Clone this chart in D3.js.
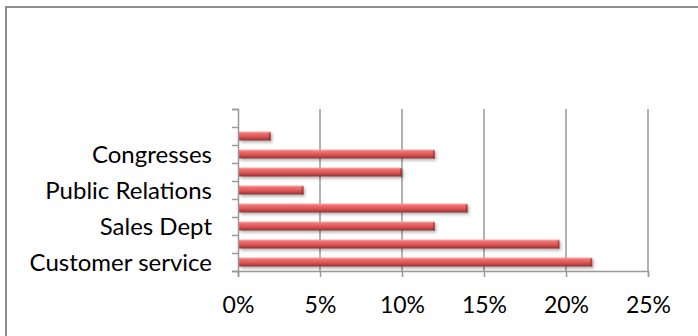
<!DOCTYPE html>
<html>
<head>
<meta charset="utf-8">
<title>Departments</title>
<script src="https://cdn.jsdelivr.net/npm/d3@7/dist/d3.min.js"></script>
<style>
  body { margin: 0; background: #fff; }
  svg text { font-family: Lato, "Open Sans", sans-serif; fill: #000; }
</style>
</head>
<body>
<svg id="svg"></svg>
<script>
// categories from bottom to top; Excel only printed every other label
var categories = ["Customer service", "", "Sales Dept", "", "Public Relations", "", "Congresses", "", ""];
var values = [21.6, 19.6, 12, 14, 4, 10, 12, 2, null];
var xTicks = [0, 5, 10, 15, 20, 25];

var width = 698, height = 336,
    plot = {left: 238, right: 648, top: 109, bottom: 271};

var svg = d3.select("#svg").attr("width", width).attr("height", height);

// frame round the chart
svg.append("rect")
  .attr("x", 6).attr("y", 7)
  .attr("width", width).attr("height", height)
  .attr("fill", "none").attr("stroke", "#8e8e8e").attr("stroke-width", 2);

var defs = svg.append("defs");
var grad = defs.append("linearGradient").attr("id", "barGrad")
  .attr("x1", 0).attr("y1", 0).attr("x2", 0).attr("y2", 1);
grad.append("stop").attr("offset", "0%").attr("stop-color", "#f5a8a8");
grad.append("stop").attr("offset", "25%").attr("stop-color", "#ef6d6d");
grad.append("stop").attr("offset", "60%").attr("stop-color", "#dc5252");
grad.append("stop").attr("offset", "100%").attr("stop-color", "#8c3333");

var shadow = defs.append("filter").attr("id", "shadow")
  .attr("x", "-5%").attr("y", "-50%").attr("width", "115%").attr("height", "250%");
shadow.append("feDropShadow").attr("dx", 1.5).attr("dy", 2)
  .attr("stdDeviation", 1.5).attr("flood-color", "#000").attr("flood-opacity", 0.3);

var x = d3.scaleLinear().domain([0, 25]).range([plot.left, plot.right]);
var y = d3.scaleBand().domain(d3.range(categories.length))
  .range([plot.bottom, plot.top]).paddingInner(0.5).paddingOuter(0.25);
var yEdges = d3.scaleLinear().domain([0, categories.length]).range([plot.bottom, plot.top]);

var bars = values.map(function(v, i) { return {i: i, v: v}; })
  .filter(function(d) { return d.v != null; });

// vertical gridlines
svg.append("g").selectAll("line")
  .data(xTicks.slice(1))
  .enter().append("line")
  .attr("x1", function(d) { return x(d); })
  .attr("x2", function(d) { return x(d); })
  .attr("y1", plot.top).attr("y2", plot.bottom)
  .attr("stroke", "#999").attr("stroke-width", 1.5);

// bars
svg.append("g").selectAll("rect")
  .data(bars)
  .enter().append("rect")
  .attr("x", x(0) + 1)
  .attr("y", function(d) { return y(d.i); })
  .attr("width", function(d) { return x(d.v) - x(0) - 1; })
  .attr("height", y.bandwidth())
  .attr("fill", "url(#barGrad)")
  .attr("filter", "url(#shadow)");

// darker bevel at the end of each bar
svg.append("g").selectAll("rect")
  .data(bars)
  .enter().append("rect")
  .attr("x", function(d) { return x(d.v) - 2; })
  .attr("y", function(d) { return y(d.i) + 1; })
  .attr("width", 2)
  .attr("height", y.bandwidth() - 1)
  .attr("fill", "#8c3333").attr("opacity", 0.6);

// x axis
var axisX = d3.axisBottom(x).tickValues(xTicks)
  .tickSize(6).tickPadding(20)
  .tickFormat(function(d) { return d + "%"; });
var gx = svg.append("g").attr("transform", "translate(0," + plot.bottom + ")").call(axisX);
gx.select(".domain").attr("stroke", "#999").attr("stroke-width", 1.5);
gx.selectAll(".tick line").attr("stroke", "#999").attr("stroke-width", 1.5);
gx.selectAll("text").style("font-size", "23px");

// y axis tick marks between categories
var axisYTicks = d3.axisLeft(yEdges).tickValues(d3.range(categories.length + 1))
  .tickSize(6).tickFormat("");
var gy = svg.append("g").attr("transform", "translate(" + plot.left + ",0)").call(axisYTicks);
gy.select(".domain").attr("stroke", "#999").attr("stroke-width", 1.5);
gy.selectAll(".tick line").attr("stroke", "#999").attr("stroke-width", 1.5);

// y labels
var axisYLabels = d3.axisLeft(y).tickSize(0).tickPadding(26)
  .tickFormat(function(i) { return categories[i]; });
var gl = svg.append("g").attr("transform", "translate(" + plot.left + ",0)").call(axisYLabels);
gl.select(".domain").remove();
gl.selectAll("text").style("font-size", "24px").attr("dy", "0.38em");
</script>
</body>
</html>
